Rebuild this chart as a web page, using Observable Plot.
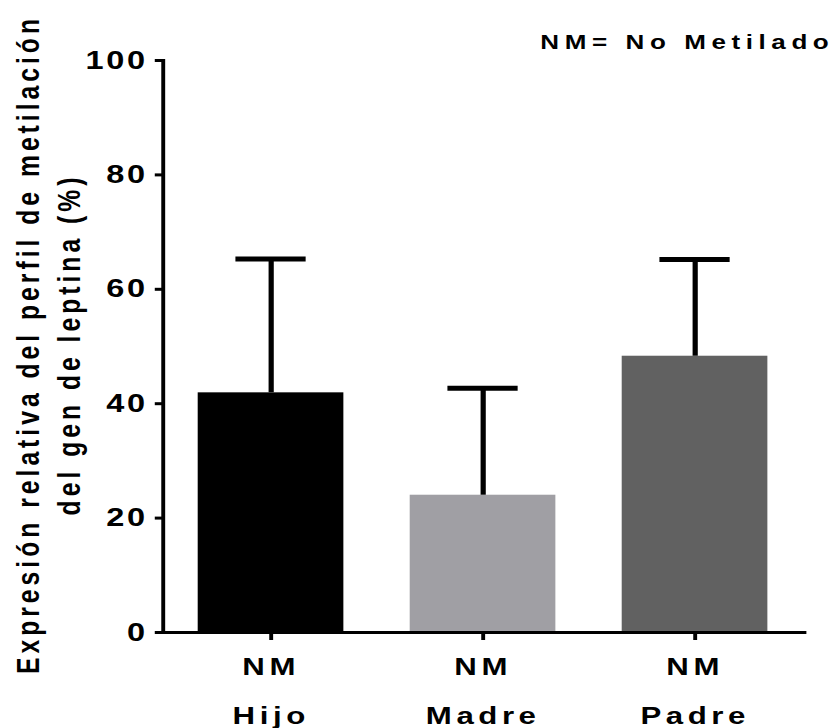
<!DOCTYPE html>
<html>
<head>
<meta charset="utf-8">
<script src="https://cdn.jsdelivr.net/npm/d3@7"></script>
<script src="https://cdn.jsdelivr.net/npm/@observablehq/plot@0.6"></script>
<style>
  html, body { margin: 0; padding: 0; background: #ffffff; }
  #chart { width: 835px; height: 728px; overflow: hidden; }
</style>
</head>
<body>
<div id="chart"></div>
<script>
// ---- data ----
const categories = ["Hijo", "Madre", "Padre"];
const means = [41.9, 24.0, 48.3];
const sds = [23.4, 18.7, 16.9];
const barColors = ["#000000", "#a09fa4", "#616161"];
const groupPrefix = "NM";
const yTicks = [0, 20, 40, 60, 80, 100];
const titleText = ["NM= No Metilado"];
const yTitle = ["Expresión relativa del perfil de metilación\ndel gen de leptina (%)"];

const rows = categories.map((c, i) => ({
  cat: c,
  mean: means[i],
  upper: means[i] + sds[i],
  color: barColors[i]
}));

// The reference is horizontally stretched; draw in narrower coordinates and stretch.
const OUT_W = 835, OUT_H = 728;
const S = 1.3;
const W = Math.round(OUT_W / S);

const chart = Plot.plot({
  width: W,
  height: OUT_H,
  marginLeft: 125,
  marginRight: 24,
  marginTop: 60,
  marginBottom: 96,
  style: {
    fontFamily: "'Liberation Sans', Arial, sans-serif",
    fontWeight: "bold",
    color: "#000",
    background: "#fff",
    overflow: "visible"
  },
  x: {domain: categories, paddingInner: 0.312, paddingOuter: 0.162, label: null},
  y: {domain: [0, 100], label: null},
  marks: [
    Plot.barY(rows, {x: "cat", y: "mean", fill: "color"}),
    Plot.ruleX(rows, {x: "cat", y1: "mean", y2: "upper", stroke: "#000", strokeWidth: 4}),
    Plot.tickY(rows, {x: "cat", y: "upper", stroke: "#000", strokeWidth: 5, inset: 29}),
    Plot.axisY({ticks: yTicks, tickSize: 6, tickPadding: 6, fontSize: 25, strokeWidth: 3, label: null}),
    Plot.axisX({tickSize: 8, tickPadding: 0, fontSize: 24, lineHeight: 2.04, strokeWidth: 3,
                tickFormat: d => groupPrefix + "\n" + d, label: null}),
    Plot.frame({anchor: "left", strokeWidth: 3}),
    Plot.frame({anchor: "bottom", strokeWidth: 3}),
    Plot.text(titleText, {text: d => d, frameAnchor: "top-right", textAnchor: "end",
                          lineAnchor: "middle", dx: 23, dy: -18, fontSize: 20}),
    Plot.text(yTitle, {text: d => d, frameAnchor: "left", rotate: -90, dx: -90, dy: -2,
                       textAnchor: "middle", lineAnchor: "middle", fontSize: 24.7, lineHeight: 1.28})
  ]
});

const svg = chart.tagName.toLowerCase() === "svg" ? chart : chart.querySelector("svg");
svg.setAttribute("preserveAspectRatio", "none");
svg.style.width = OUT_W + "px";
svg.style.height = OUT_H + "px";
svg.style.maxWidth = "none";

const sel = d3.select(svg);
sel.selectAll('g[aria-label="y-axis tick label"] text').style("letter-spacing", "2px");
sel.selectAll('g[aria-label="x-axis tick label"] text').style("letter-spacing", "3.5px");
const textGroups = sel.selectAll('g[aria-label="text"]').nodes();
if (textGroups[0]) d3.select(textGroups[0]).selectAll("text").style("letter-spacing", "4.3px");
if (textGroups[1]) d3.select(textGroups[1]).selectAll("text").style("letter-spacing", "4px");

document.getElementById("chart").appendChild(chart);
</script>
</body>
</html>
